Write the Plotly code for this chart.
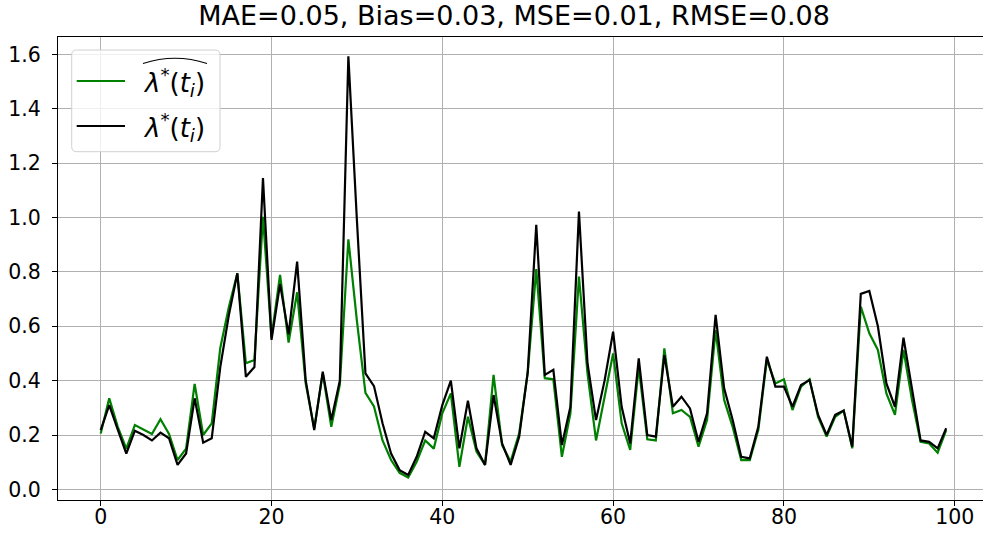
import plotly.graph_objects as go

# time index of the events
t_index = list(range(100))

# estimated intensity  \hat{lambda}^*(t_i)
lambda_hat = [
    0.206, 0.335, 0.230, 0.150, 0.237, 0.220, 0.204, 0.258, 0.204, 0.108,
    0.150, 0.388, 0.200, 0.243, 0.520, 0.670, 0.795, 0.464, 0.476, 1.003,
    0.560, 0.789, 0.540, 0.725, 0.390, 0.225, 0.427, 0.230, 0.385, 0.920,
    0.620, 0.355, 0.305, 0.180, 0.108, 0.061, 0.044, 0.102, 0.180, 0.150,
    0.280, 0.353, 0.083, 0.267, 0.139, 0.090, 0.421, 0.163, 0.102, 0.206,
    0.430, 0.810, 0.409, 0.405, 0.120, 0.280, 0.783, 0.427, 0.180, 0.340,
    0.500, 0.243, 0.145, 0.450, 0.184, 0.180, 0.519, 0.280, 0.292, 0.267,
    0.157, 0.255, 0.586, 0.329, 0.230, 0.108, 0.108, 0.218, 0.476, 0.390,
    0.405, 0.292, 0.378, 0.405, 0.267, 0.194, 0.267, 0.290, 0.151, 0.672,
    0.574, 0.513, 0.353, 0.274, 0.513, 0.329, 0.175, 0.169, 0.135, 0.218,
]

# true intensity  lambda^*(t_i)
lambda_true = [
    0.218, 0.310, 0.220, 0.132, 0.216, 0.200, 0.180, 0.209, 0.188, 0.090,
    0.132, 0.335, 0.172, 0.188, 0.450, 0.640, 0.795, 0.414, 0.450, 1.145,
    0.550, 0.755, 0.570, 0.838, 0.402, 0.218, 0.433, 0.255, 0.400, 1.593,
    0.990, 0.427, 0.380, 0.243, 0.132, 0.071, 0.053, 0.120, 0.212, 0.188,
    0.310, 0.400, 0.151, 0.326, 0.151, 0.090, 0.347, 0.169, 0.090, 0.194,
    0.430, 0.973, 0.421, 0.440, 0.163, 0.304, 1.022, 0.464, 0.255, 0.400,
    0.580, 0.304, 0.169, 0.482, 0.200, 0.194, 0.494, 0.304, 0.341, 0.298,
    0.175, 0.280, 0.642, 0.372, 0.255, 0.120, 0.114, 0.230, 0.488, 0.378,
    0.378, 0.304, 0.384, 0.402, 0.274, 0.200, 0.274, 0.290, 0.157, 0.719,
    0.730, 0.600, 0.390, 0.304, 0.558, 0.366, 0.180, 0.175, 0.151, 0.225,
]

x_ticks = [0, 20, 40, 60, 80, 100]
y_ticks = [0.0, 0.2, 0.4, 0.6, 0.8, 1.0, 1.2, 1.4, 1.6]

title_text = "MAE=0.05, Bias=0.03, MSE=0.01, RMSE=0.08"
label_true = "<i>λ</i><sup>*</sup>(<i>t</i><sub><i>i</i></sub>)"
label_hat = label_true  # drawn with a wide hat on top

FONT = "DejaVu Sans"
GREEN = "#008000"
BLACK = "#000000"

# figure geometry (pixels)
W, H = 983, 542
ML, MR, MT, MB = 58, 0, 37, 42
PW, PH = W - ML - MR, H - MT - MB


def px(xp):
    """pixel column -> paper x"""
    return (xp - ML) / PW


def py(yp):
    """pixel row -> paper y"""
    return (H - MB - yp) / PH


fig = go.Figure()
fig.add_trace(go.Scatter(
    x=t_index, y=lambda_hat, mode="lines", name="lambda_hat",
    line=dict(color=GREEN, width=2.2), showlegend=False,
))
fig.add_trace(go.Scatter(
    x=t_index, y=lambda_true, mode="lines", name="lambda_true",
    line=dict(color=BLACK, width=2.2), showlegend=False,
))

axis_common = dict(
    showgrid=True, gridcolor="#b0b0b0", gridwidth=1,
    showline=True, linecolor=BLACK, linewidth=1.2,
    ticks="outside", ticklen=5, tickwidth=1.2, tickcolor=BLACK,
    tickfont=dict(family=FONT, size=20.5, color=BLACK),
    zeroline=False,
)

fig.update_xaxes(range=[-5.0, 103.31], tickvals=x_ticks, mirror=True,
                 ticklabelstandoff=-7, **axis_common)
fig.update_yaxes(range=[-0.039, 1.664], tickvals=y_ticks, tickformat=".1f",
                 mirror=False, ticklabelstandoff=7, **axis_common)

# legend frame (rounded box)
bx0, bx1, by0, by1, r = 71.7, 220.0, 50.0, 151.7, 5.0
frame = (
    f"M {px(bx0 + r)},{py(by0)} L {px(bx1 - r)},{py(by0)} "
    f"Q {px(bx1)},{py(by0)} {px(bx1)},{py(by0 + r)} "
    f"L {px(bx1)},{py(by1 - r)} Q {px(bx1)},{py(by1)} {px(bx1 - r)},{py(by1)} "
    f"L {px(bx0 + r)},{py(by1)} Q {px(bx0)},{py(by1)} {px(bx0)},{py(by1 - r)} "
    f"L {px(bx0)},{py(by0 + r)} Q {px(bx0)},{py(by0)} {px(bx0 + r)},{py(by0)} Z"
)
fig.add_shape(type="path", xref="paper", yref="paper", path=frame,
              fillcolor="rgba(255,255,255,0.8)",
              line=dict(color="#d0d0d0", width=1), layer="above")

# legend entries: line sample + label
rows = [(81.0, GREEN, label_hat), (126.0, BLACK, label_true)]
for yrow, color, text in rows:
    fig.add_shape(type="line", xref="paper", yref="paper",
                  x0=px(76.7), x1=px(125.0), y0=py(yrow), y1=py(yrow),
                  line=dict(color=color, width=2.2), layer="above")
    fig.add_annotation(x=px(141.0), y=py(yrow + 1), xref="paper", yref="paper",
                       text=text, showarrow=False, xanchor="left",
                       yanchor="middle",
                       font=dict(family=FONT, size=26, color=BLACK))

# wide hat over the estimated-intensity label
fig.add_shape(
    type="path", xref="paper", yref="paper",
    path=f"M {px(143)},{py(63.5)} Q {px(175)},{py(53)} {px(207)},{py(63.5)}",
    line=dict(color=BLACK, width=1.1), layer="above",
)

fig.update_layout(
    width=W, height=H,
    margin=dict(l=ML, r=MR, t=MT, b=MB),
    paper_bgcolor="white", plot_bgcolor="white",
    title=dict(text=title_text, x=0.523, xanchor="center",
               y=0.972, yref="container", yanchor="middle",
               font=dict(family=FONT, size=27, color=BLACK)),
    showlegend=False,
)

fig.write_html("out.html")
